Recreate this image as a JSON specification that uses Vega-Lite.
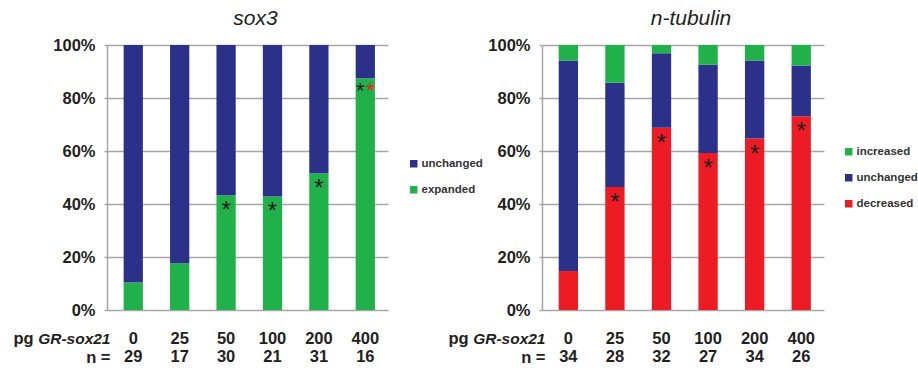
{
  "$schema": "https://vega.github.io/schema/vega-lite/v6.json",
  "autosize": {"type": "pad"},
  "padding": {"left": 13, "top": 8, "right": 0, "bottom": 0},
  "background": "white",
  "config": {
    "font": "Liberation Sans",
    "view": {"stroke": null},
    "axis": {"labelColor": "#231f20", "titleColor": "#231f20", "labelFont": "Liberation Sans", "titleFont": "Liberation Sans"},
    "axisX": {"grid": false, "domain": false, "ticks": false, "tickSize": 0, "labelAngle": 0, "labelFontSize": 16.5, "labelFontWeight": "bold", "labelLineHeight": 18, "labelBaseline": "top", "labelPadding": 20, "titleFontSize": 16.5, "titleFontWeight": "bold", "titleBaseline": "alphabetic", "titleAlign": "right", "titleX": 3},
    "axisY": {"grid": true, "gridColor": "#a6a6a6", "gridWidth": 1.5, "domainColor": "#a6a6a6", "domainWidth": 1.5, "tickColor": "#a6a6a6", "tickWidth": 1.5, "tickSize": 3, "labelFontSize": 16.5, "labelFontWeight": "bold", "labelPadding": 9, "titleFontSize": 16.5, "titleFontWeight": "bold", "titleAngle": 0, "titleAlign": "left", "titleBaseline": "alphabetic", "titleX": -94, "titleY": 298},
    "legend": {"orient": "none", "title": null, "symbolType": "square", "symbolSize": 56, "symbolStrokeWidth": 0, "labelFontSize": 11.5, "labelFontWeight": "bold", "labelColor": "#333333", "rowPadding": 13, "labelOffset": 2, "padding": 0},
    "title": {"fontStyle": "italic", "fontWeight": "normal", "fontSize": 21, "color": "#231f20", "frame": "group", "anchor": "middle", "baseline": "alphabetic", "offset": 8, "dx": 8}
  },
  "bounds": "flush",
  "spacing": 154,
  "resolve": {"scale": {"x": "independent", "y": "independent", "color": "independent"}},
  "hconcat": [
    {
      "width": 281,
      "height": 265,
      "title": "sox3",
      "data": {"values": [
        {"dose": "0", "n": 29, "xlab": "0|29", "cat": "expanded", "level": 1, "count": 3, "sig": ""},
        {"dose": "0", "n": 29, "xlab": "0|29", "cat": "unchanged", "level": 2, "count": 26, "sig": ""},
        {"dose": "25", "n": 17, "xlab": "25|17", "cat": "expanded", "level": 1, "count": 3, "sig": ""},
        {"dose": "25", "n": 17, "xlab": "25|17", "cat": "unchanged", "level": 2, "count": 14, "sig": ""},
        {"dose": "50", "n": 30, "xlab": "50|30", "cat": "expanded", "level": 1, "count": 13, "sig": "*"},
        {"dose": "50", "n": 30, "xlab": "50|30", "cat": "unchanged", "level": 2, "count": 17, "sig": ""},
        {"dose": "100", "n": 21, "xlab": "100|21", "cat": "expanded", "level": 1, "count": 9, "sig": "*"},
        {"dose": "100", "n": 21, "xlab": "100|21", "cat": "unchanged", "level": 2, "count": 12, "sig": ""},
        {"dose": "200", "n": 31, "xlab": "200|31", "cat": "expanded", "level": 1, "count": 16, "sig": "*"},
        {"dose": "200", "n": 31, "xlab": "200|31", "cat": "unchanged", "level": 2, "count": 15, "sig": ""},
        {"dose": "400", "n": 16, "xlab": "400|16", "cat": "expanded", "level": 1, "count": 14, "sig": "**"},
        {"dose": "400", "n": 16, "xlab": "400|16", "cat": "unchanged", "level": 2, "count": 2, "sig": ""}
      ]},
      "transform": [
        {"stack": "count", "groupby": ["dose"], "sort": [{"field": "level", "order": "ascending"}], "offset": "normalize", "as": ["lo", "hi"]}
      ],
      "resolve": {"axis": {"x": "independent"}},
      "layer": [
        {
          "mark": {"type": "bar"},
          "encoding": {
            "x": {"field": "xlab", "type": "nominal", "sort": ["0|29", "25|17", "50|30", "100|21", "200|31", "400|16"], "scale": {"paddingInner": 0.585, "paddingOuter": 0.32, "align": 0.56}, "axis": {"orient": "bottom", "labelExpr": "split(datum.label, '|')", "title": "n =", "titleY": 52}},
            "y": {"field": "hi", "type": "quantitative", "scale": {"domain": [0, 1]}, "axis": {"format": ".0%", "values": [0, 0.2, 0.4, 0.6, 0.8, 1], "title": "pg"}},
            "y2": {"field": "lo"},
            "color": {"field": "cat", "type": "nominal", "scale": {"domain": ["unchanged", "expanded"], "range": ["#2b3189", "#21b14b"]}, "legend": {"legendX": 301, "legendY": 113}}
          }
        },
        {
          "transform": [{"filter": "datum.sig == '*'"}],
          "mark": {"type": "text", "text": "*", "fontSize": 24, "baseline": "alphabetic", "dy": 23, "color": "#231f20"},
          "encoding": {
            "x": {"field": "xlab", "type": "nominal", "sort": ["0|29", "25|17", "50|30", "100|21", "200|31", "400|16"], "axis": {"orient": "bottom", "labels": false, "title": "GR-sox21", "titleFontSize": 15.5, "titleFontStyle": "italic", "titleY": 33.5}},
            "y": {"field": "hi", "type": "quantitative", "axis": {"format": ".0%", "values": [0, 0.2, 0.4, 0.6, 0.8, 1], "title": "pg"}}
          }
        },
        {
          "transform": [{"filter": "datum.sig == '**'"}],
          "mark": {"type": "text", "text": "*", "fontSize": 22, "baseline": "alphabetic", "dy": 20, "dx": -5, "color": "#231f20"},
          "encoding": {
            "x": {"field": "xlab", "type": "nominal", "sort": ["0|29", "25|17", "50|30", "100|21", "200|31", "400|16"], "axis": null},
            "y": {"field": "hi", "type": "quantitative", "axis": {"format": ".0%", "values": [0, 0.2, 0.4, 0.6, 0.8, 1], "title": "pg"}}
          }
        },
        {
          "transform": [{"filter": "datum.sig == '**'"}],
          "mark": {"type": "text", "text": "*", "fontSize": 22, "baseline": "alphabetic", "dy": 20, "dx": 5, "color": "#ed1c24"},
          "encoding": {
            "x": {"field": "xlab", "type": "nominal", "sort": ["0|29", "25|17", "50|30", "100|21", "200|31", "400|16"], "axis": null},
            "y": {"field": "hi", "type": "quantitative", "axis": {"format": ".0%", "values": [0, 0.2, 0.4, 0.6, 0.8, 1], "title": "pg"}}
          }
        }
      ]
    },
    {
      "width": 282,
      "height": 265,
      "title": "n-tubulin",
      "data": {"values": [
        {"dose": "0", "n": 34, "xlab": "0|34", "cat": "decreased", "level": 1, "count": 5, "sig": ""},
        {"dose": "0", "n": 34, "xlab": "0|34", "cat": "unchanged", "level": 2, "count": 27, "sig": ""},
        {"dose": "0", "n": 34, "xlab": "0|34", "cat": "increased", "level": 3, "count": 2, "sig": ""},
        {"dose": "25", "n": 28, "xlab": "25|28", "cat": "decreased", "level": 1, "count": 13, "sig": "*"},
        {"dose": "25", "n": 28, "xlab": "25|28", "cat": "unchanged", "level": 2, "count": 11, "sig": ""},
        {"dose": "25", "n": 28, "xlab": "25|28", "cat": "increased", "level": 3, "count": 4, "sig": ""},
        {"dose": "50", "n": 32, "xlab": "50|32", "cat": "decreased", "level": 1, "count": 22, "sig": "*"},
        {"dose": "50", "n": 32, "xlab": "50|32", "cat": "unchanged", "level": 2, "count": 9, "sig": ""},
        {"dose": "50", "n": 32, "xlab": "50|32", "cat": "increased", "level": 3, "count": 1, "sig": ""},
        {"dose": "100", "n": 27, "xlab": "100|27", "cat": "decreased", "level": 1, "count": 16, "sig": "*"},
        {"dose": "100", "n": 27, "xlab": "100|27", "cat": "unchanged", "level": 2, "count": 9, "sig": ""},
        {"dose": "100", "n": 27, "xlab": "100|27", "cat": "increased", "level": 3, "count": 2, "sig": ""},
        {"dose": "200", "n": 34, "xlab": "200|34", "cat": "decreased", "level": 1, "count": 22, "sig": "*"},
        {"dose": "200", "n": 34, "xlab": "200|34", "cat": "unchanged", "level": 2, "count": 10, "sig": ""},
        {"dose": "200", "n": 34, "xlab": "200|34", "cat": "increased", "level": 3, "count": 2, "sig": ""},
        {"dose": "400", "n": 26, "xlab": "400|26", "cat": "decreased", "level": 1, "count": 19, "sig": "*"},
        {"dose": "400", "n": 26, "xlab": "400|26", "cat": "unchanged", "level": 2, "count": 5, "sig": ""},
        {"dose": "400", "n": 26, "xlab": "400|26", "cat": "increased", "level": 3, "count": 2, "sig": ""}
      ]},
      "transform": [
        {"stack": "count", "groupby": ["dose"], "sort": [{"field": "level", "order": "ascending"}], "offset": "normalize", "as": ["lo", "hi"]}
      ],
      "resolve": {"axis": {"x": "independent"}},
      "layer": [
        {
          "mark": {"type": "bar"},
          "encoding": {
            "x": {"field": "xlab", "type": "nominal", "sort": ["0|34", "25|28", "50|32", "100|27", "200|34", "400|26"], "scale": {"paddingInner": 0.585, "paddingOuter": 0.32, "align": 0.56}, "axis": {"orient": "bottom", "labelExpr": "split(datum.label, '|')", "title": "n =", "titleY": 52}},
            "y": {"field": "hi", "type": "quantitative", "scale": {"domain": [0, 1]}, "axis": {"format": ".0%", "values": [0, 0.2, 0.4, 0.6, 0.8, 1], "title": "pg"}},
            "y2": {"field": "lo"},
            "color": {"field": "cat", "type": "nominal", "scale": {"domain": ["increased", "unchanged", "decreased"], "range": ["#21b14b", "#2b3189", "#ed1c24"]}, "legend": {"legendX": 301, "legendY": 101}}
          }
        },
        {
          "transform": [{"filter": "datum.sig == '*'"}],
          "mark": {"type": "text", "text": "*", "fontSize": 24, "baseline": "alphabetic", "dy": 23, "color": "#231f20"},
          "encoding": {
            "x": {"field": "xlab", "type": "nominal", "sort": ["0|34", "25|28", "50|32", "100|27", "200|34", "400|26"], "axis": {"orient": "bottom", "labels": false, "title": "GR-sox21", "titleFontSize": 15.5, "titleFontStyle": "italic", "titleY": 33.5}},
            "y": {"field": "hi", "type": "quantitative", "axis": {"format": ".0%", "values": [0, 0.2, 0.4, 0.6, 0.8, 1], "title": "pg"}}
          }
        }
      ]
    }
  ]
}
